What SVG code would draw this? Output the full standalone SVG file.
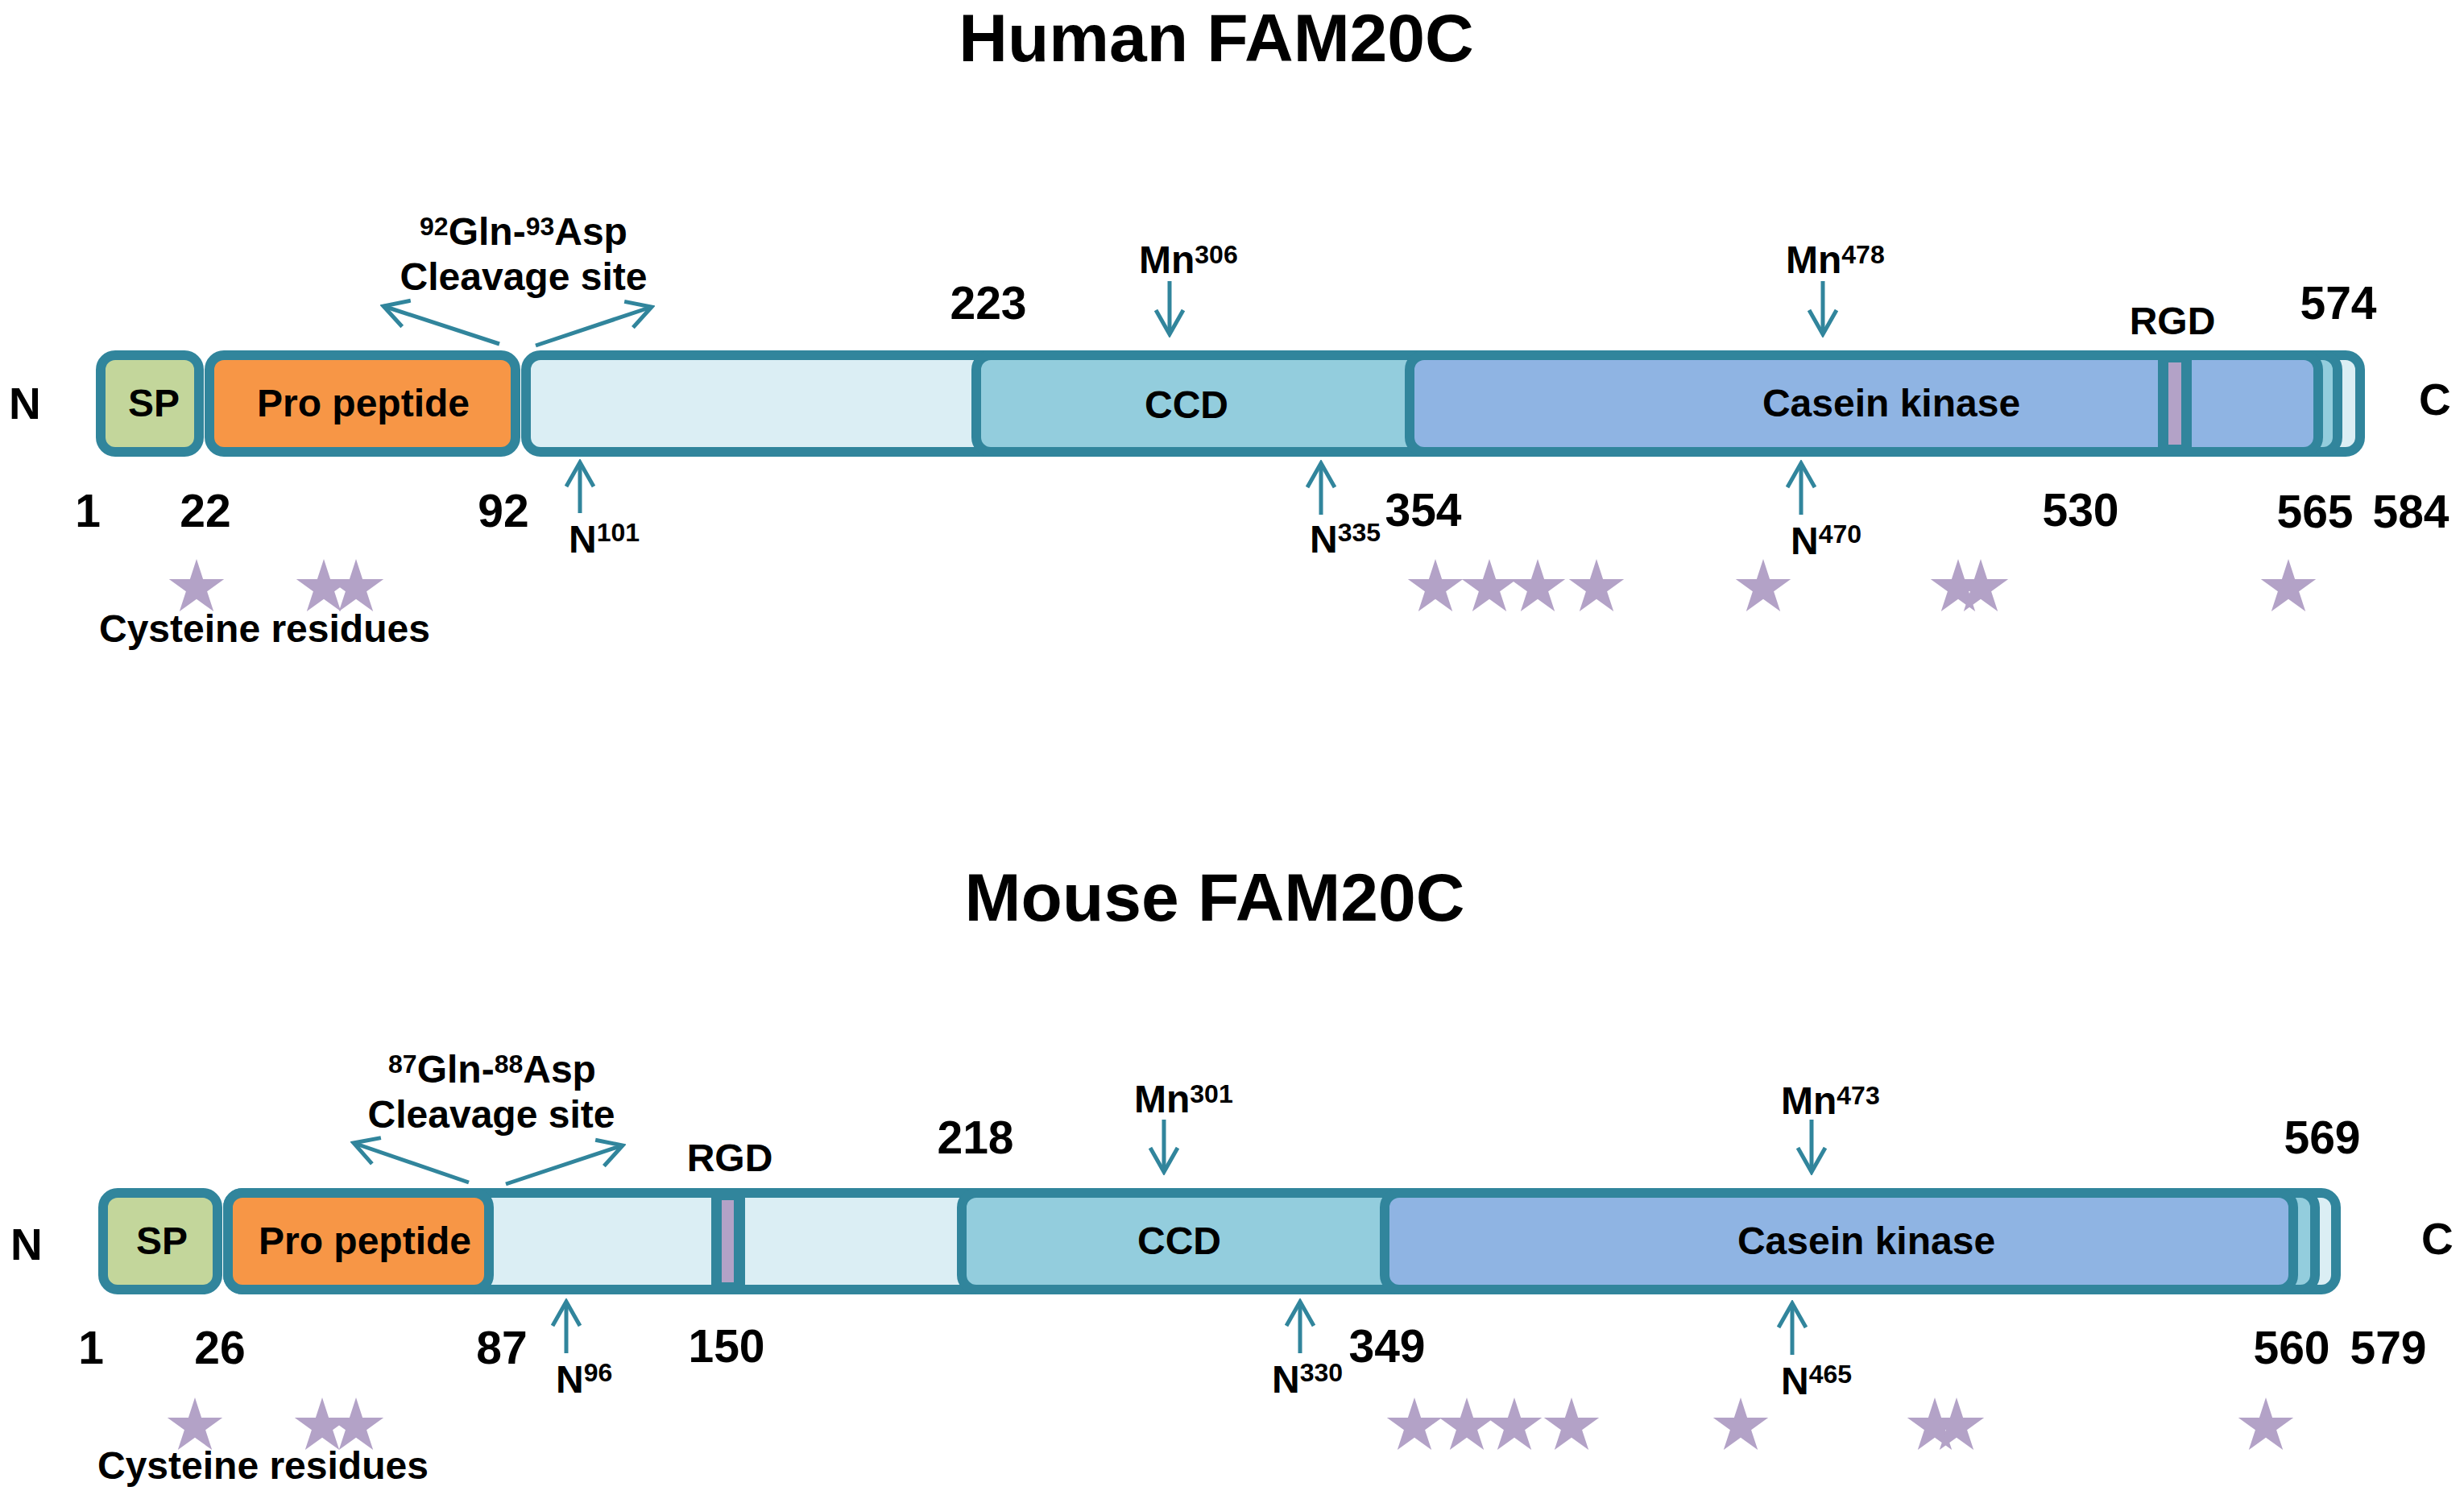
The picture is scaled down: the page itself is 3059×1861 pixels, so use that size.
<svg xmlns="http://www.w3.org/2000/svg" width="3059" height="1861" viewBox="0 0 3059 1861">
<style>
text{font-family:"Liberation Sans",Arial,sans-serif;font-weight:bold;fill:#000}
.title{font-size:84px}
.lbl{font-size:48px}
.num{font-size:57px}
.end{font-size:55px}
.sup{font-size:32px}
.mid{text-anchor:middle}
.box{stroke:#31859c;stroke-width:12}
.sp{fill:#c3d69b}
.pro{fill:#f79646}
.light{fill:#dbeef4}
.ccd{fill:#93cddd}
.kin{fill:#8fb4e3}
.rgdd{fill:#31859c}
.rgdp{fill:#b3a2c7}
.arr{stroke:#31859c;stroke-width:5;fill:none}
.star{fill:#b3a2c7}
</style>
<defs>
<marker id="ah" markerUnits="userSpaceOnUse" viewBox="-34 -20 38 40" refX="0" refY="0" markerWidth="38" markerHeight="40" orient="auto">
<path d="M-30,-17 L0,0 L-30,17" fill="none" stroke="#31859c" stroke-width="5"/>
</marker>
<polygon id="st" points="0,-36 8.1,-11.1 34.2,-11.1 13.1,4.3 21.2,29.1 0,13.7 -21.2,29.1 -13.1,4.3 -34.2,-11.1 -8.1,-11.1"/>
</defs>

<g id="human">
<text class="title mid" x="1510" y="76">Human FAM20C</text>
<g id="h-light"><rect class="box light" x="653" y="441" width="2277" height="120" rx="18"/></g>
<g id="h-ccd"><rect class="box ccd" x="1212" y="441" width="1690" height="120" rx="18"/><text class="lbl mid" x="1473" y="519">CCD</text></g>
<g id="h-kinase"><rect class="box kin" x="1750" y="441" width="1128" height="120" rx="18"/><text class="lbl mid" x="2348" y="517">Casein kinase</text></g>
<g id="h-rgd"><rect class="rgdd" x="2679" y="441" width="42" height="120"/><rect class="rgdp" x="2692" y="450" width="16" height="102"/><text class="lbl mid" x="2697" y="415">RGD</text></g>
<g id="h-sp"><rect class="box sp" x="125" y="441" width="122" height="120" rx="18"/><text class="lbl mid" x="191" y="517">SP</text></g>
<g id="h-pro"><rect class="box pro" x="260" y="441" width="380" height="120" rx="18"/><text class="lbl mid" x="451" y="517">Pro peptide</text></g>
<text class="end" x="11" y="520">N</text>
<text class="end" x="3003" y="515">C</text>
<text class="num mid" x="1227" y="396">223</text>
<text class="num mid" x="2903" y="396">574</text>
<text class="num mid" x="109" y="654">1</text>
<text class="num mid" x="255" y="654">22</text>
<text class="num mid" x="625" y="654">92</text>
<text class="num mid" x="1767" y="653">354</text>
<text class="num mid" x="2583" y="653">530</text>
<text class="num mid" x="2874" y="655">565</text>
<text class="num mid" x="2993" y="655">584</text>
<text class="lbl mid" x="650" y="304"><tspan class="sup" dy="-12">92</tspan><tspan dy="12">Gln-</tspan><tspan class="sup" dy="-12">93</tspan><tspan dy="12">Asp</tspan></text>
<text class="lbl mid" x="650" y="360">Cleavage site</text>
<text class="lbl" x="1414" y="339">Mn<tspan class="sup" dy="-12">306</tspan></text>
<text class="lbl" x="2217" y="339">Mn<tspan class="sup" dy="-12">478</tspan></text>
<text class="lbl" x="706" y="686">N<tspan class="sup" dy="-14">101</tspan></text>
<text class="lbl" x="1626" y="686">N<tspan class="sup" dy="-14">335</tspan></text>
<text class="lbl" x="2223" y="688">N<tspan class="sup" dy="-14">470</tspan></text>
<g id="h-stars" class="star">
<use href="#st" x="244" y="730"/><use href="#st" x="402" y="730"/><use href="#st" x="442" y="730"/>
<use href="#st" x="1782" y="730"/><use href="#st" x="1849" y="730"/><use href="#st" x="1909" y="730"/><use href="#st" x="1982" y="730"/>
<use href="#st" x="2189" y="730"/><use href="#st" x="2431" y="730"/><use href="#st" x="2459" y="730"/><use href="#st" x="2841" y="730"/>
</g>
<text class="lbl" x="123" y="797">Cysteine residues</text>
</g>

<g id="mouse">
<text class="title mid" x="1508" y="1143">Mouse FAM20C</text>
<g id="m-light"><rect class="box light" x="283" y="1481" width="2617" height="120" rx="18"/></g>
<g id="m-pro"><rect class="box pro" x="283" y="1481" width="324" height="120" rx="18"/><text class="lbl mid" x="453" y="1557">Pro peptide</text></g>
<g id="m-rgd"><rect class="rgdd" x="883" y="1481" width="42" height="120"/><rect class="rgdp" x="896" y="1490" width="15" height="102"/><text class="lbl mid" x="906" y="1454">RGD</text></g>
<g id="m-ccd"><rect class="box ccd" x="1194" y="1481" width="1680" height="120" rx="18"/><text class="lbl mid" x="1464" y="1557">CCD</text></g>
<g id="m-kinase"><rect class="box kin" x="1719" y="1481" width="1128" height="120" rx="18"/><text class="lbl mid" x="2317" y="1557">Casein kinase</text></g>
<g id="m-sp"><rect class="box sp" x="128" y="1481" width="142" height="120" rx="18"/><text class="lbl mid" x="201" y="1557">SP</text></g>
<text class="end" x="13" y="1564">N</text>
<text class="end" x="3006" y="1557">C</text>
<text class="num mid" x="1211" y="1432">218</text>
<text class="num mid" x="2883" y="1432">569</text>
<text class="num mid" x="113" y="1693">1</text>
<text class="num mid" x="273" y="1693">26</text>
<text class="num mid" x="623" y="1693">87</text>
<text class="num mid" x="902" y="1691">150</text>
<text class="num mid" x="1722" y="1691">349</text>
<text class="num mid" x="2845" y="1693">560</text>
<text class="num mid" x="2965" y="1693">579</text>
<text class="lbl mid" x="611" y="1344"><tspan class="sup" dy="-12">87</tspan><tspan dy="12">Gln-</tspan><tspan class="sup" dy="-12">88</tspan><tspan dy="12">Asp</tspan></text>
<text class="lbl mid" x="610" y="1400">Cleavage site</text>
<text class="lbl" x="1408" y="1381">Mn<tspan class="sup" dy="-12">301</tspan></text>
<text class="lbl" x="2211" y="1383">Mn<tspan class="sup" dy="-12">473</tspan></text>
<text class="lbl" x="690" y="1729">N<tspan class="sup" dy="-14">96</tspan></text>
<text class="lbl" x="1579" y="1729">N<tspan class="sup" dy="-14">330</tspan></text>
<text class="lbl" x="2211" y="1731">N<tspan class="sup" dy="-14">465</tspan></text>
<g id="m-stars" class="star">
<use href="#st" x="242" y="1771"/><use href="#st" x="400" y="1771"/><use href="#st" x="442" y="1771"/>
<use href="#st" x="1756" y="1771"/><use href="#st" x="1821" y="1771"/><use href="#st" x="1880" y="1771"/><use href="#st" x="1951" y="1771"/>
<use href="#st" x="2161" y="1771"/><use href="#st" x="2402" y="1771"/><use href="#st" x="2429" y="1771"/><use href="#st" x="2813" y="1771"/>
</g>
<text class="lbl" x="121" y="1836">Cysteine residues</text>
</g>

<g id="connectors" class="arr">
<line x1="620" y1="427" x2="476" y2="380" marker-end="url(#ah)"/>
<line x1="665" y1="429" x2="809" y2="381" marker-end="url(#ah)"/>
<line x1="1452" y1="349" x2="1452" y2="415" marker-end="url(#ah)"/>
<line x1="2263" y1="349" x2="2263" y2="415" marker-end="url(#ah)"/>
<line x1="720" y1="637" x2="720" y2="574" marker-end="url(#ah)"/>
<line x1="1640" y1="639" x2="1640" y2="575" marker-end="url(#ah)"/>
<line x1="2236" y1="639" x2="2236" y2="575" marker-end="url(#ah)"/>
<line x1="582" y1="1468" x2="439" y2="1419" marker-end="url(#ah)"/>
<line x1="628" y1="1470" x2="773" y2="1422" marker-end="url(#ah)"/>
<line x1="1445" y1="1390" x2="1445" y2="1455" marker-end="url(#ah)"/>
<line x1="2249" y1="1390" x2="2249" y2="1455" marker-end="url(#ah)"/>
<line x1="703" y1="1680" x2="703" y2="1616" marker-end="url(#ah)"/>
<line x1="1614" y1="1680" x2="1614" y2="1616" marker-end="url(#ah)"/>
<line x1="2225" y1="1682" x2="2225" y2="1618" marker-end="url(#ah)"/>
</g>
</svg>
